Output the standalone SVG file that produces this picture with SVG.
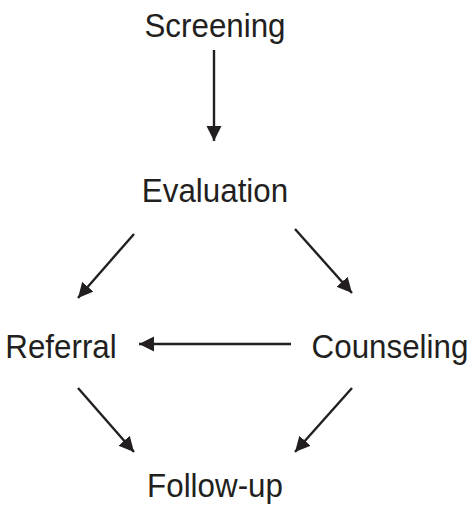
<svg xmlns="http://www.w3.org/2000/svg" width="471" height="513" viewBox="0 0 471 513">
<style>
.lbl{font-family:"Liberation Sans",Arial,sans-serif;font-size:33px;fill:#231f20;text-anchor:middle}
.edge{stroke:#231f20;stroke-width:2.4;fill:none;marker-end:url(#ah)}
</style>
<defs>
<marker id="ah" markerUnits="userSpaceOnUse" markerWidth="16" markerHeight="16" refX="15" refY="7.5" orient="auto">
<path d="M0,0 L15,7.5 L0,15 Z" fill="#231f20"/>
</marker>
</defs>
<rect width="471" height="513" fill="#fff"/>
<g id="connectors">
<line class="edge" x1="214" y1="50" x2="214" y2="141"/>
<line class="edge" x1="134" y1="234" x2="78" y2="298"/>
<line class="edge" x1="295" y1="229" x2="352" y2="293"/>
<line class="edge" x1="291" y1="344" x2="139" y2="344"/>
<line class="edge" x1="78" y1="388" x2="134" y2="452"/>
<line class="edge" x1="352" y1="388" x2="295" y2="452"/>
</g>
<g id="screening"><text class="lbl" transform="translate(215,37) scale(0.95,1)">Screening</text></g>
<g id="evaluation"><text class="lbl" transform="translate(215,202) scale(0.95,1)">Evaluation</text></g>
<g id="referral"><text class="lbl" transform="translate(61,358) scale(0.95,1)">Referral</text></g>
<g id="counseling"><text class="lbl" transform="translate(390,358) scale(0.95,1)">Counseling</text></g>
<g id="followup"><text class="lbl" transform="translate(215,497) scale(0.95,1)">Follow-up</text></g>
</svg>
